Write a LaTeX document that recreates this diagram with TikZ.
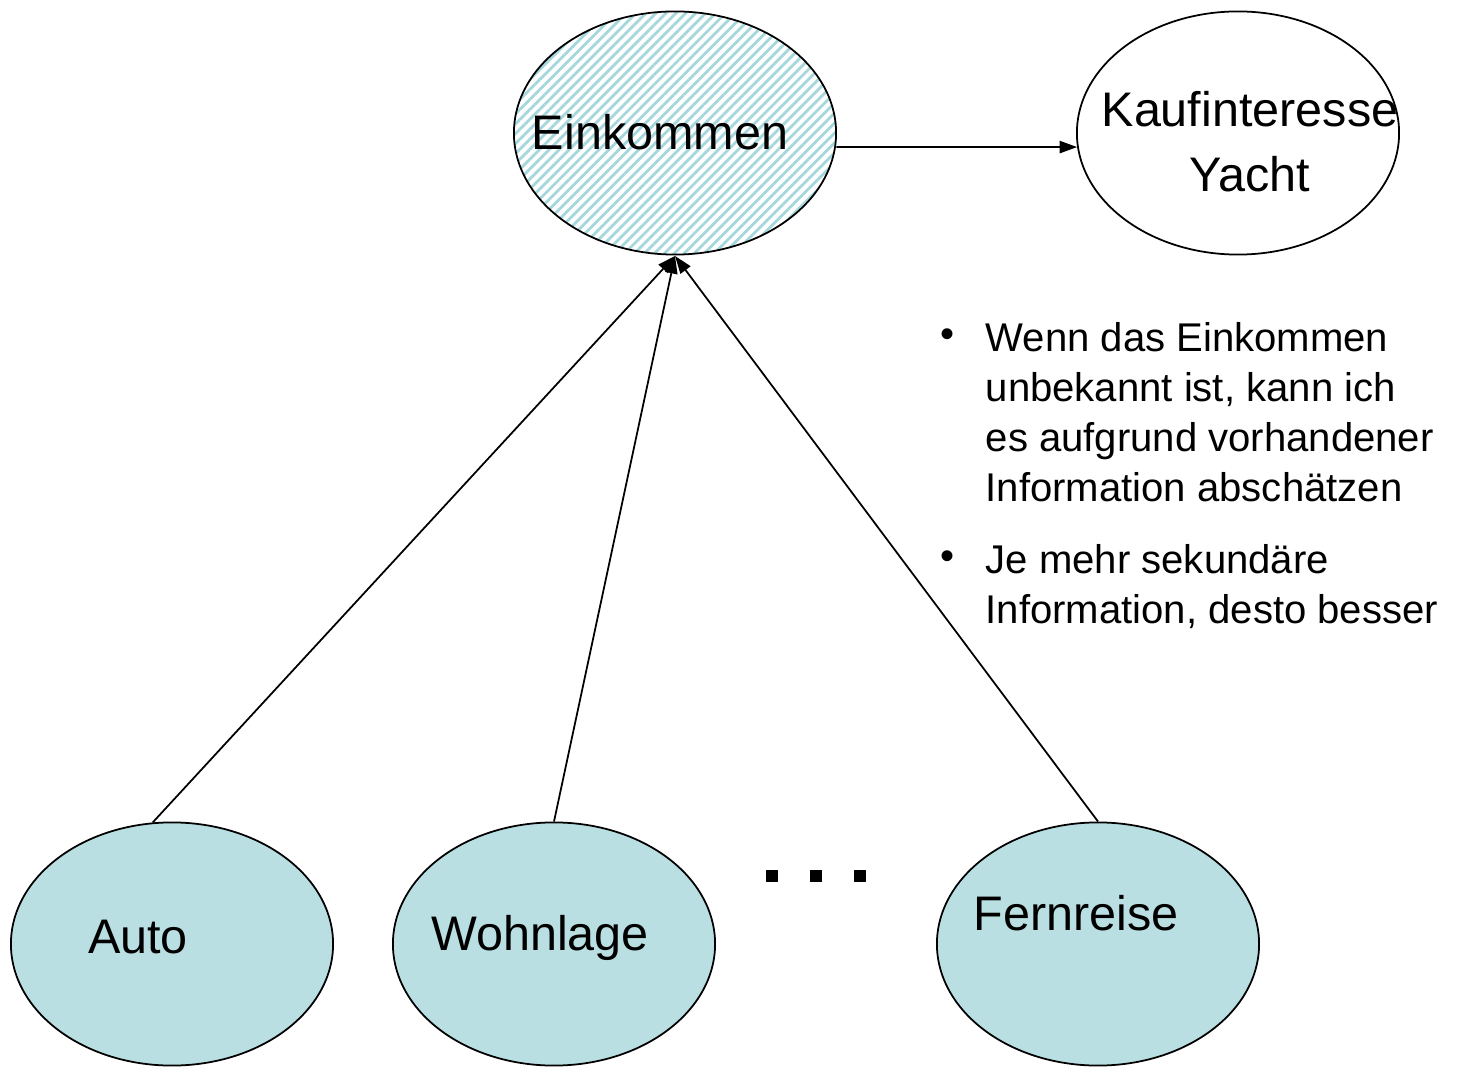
\documentclass[tikz,border=0pt]{standalone}
\usepackage{fontspec}
\setmainfont{Liberation Sans}
\usetikzlibrary{shapes.geometric,arrows.meta,patterns.meta}
\definecolor{hellblau}{RGB}{185,223,226}
\definecolor{schraffur}{RGB}{165,215,220}

\begin{document}
\begin{tikzpicture}[x=0.01cm,y=-0.01cm,
  every node/.style={align=center,inner sep=0pt},
  oval/.style={draw,ellipse,line width=0.5pt,minimum width=3.22cm,minimum height=2.43cm},
  wort/.style={font=\fontsize{13.8}{18.5}\selectfont},
  liste/.style={font=\fontsize{11.4}{14.2}\selectfont},
  punkt/.style={fill=black,minimum size=0.12cm},
  pfeil/.style={-{Triangle[length=5pt,width=3.5pt]},line width=0.5pt}]
\useasboundingbox (0,0) rectangle (1457,1067);

\node (eink) [oval,pattern={Lines[angle=45,distance=2pt,line width=0.8pt]},
  pattern color=schraffur] at (675,133) {};
\node (kauf) [oval] at (1238,133) {};
\node (auto) [oval,fill=hellblau] at (172,944) {};
\node (wohn) [oval,fill=hellblau] at (554,944) {};
\node (fern) [oval,fill=hellblau] at (1098,944) {};

\node (einkt) [wort] at (660,132) {Einkommen};
\node (kauft) [wort] at (1250,142) {Kaufinteresse\\Yacht};
\node (autot) [wort] at (138,937) {Auto};
\node (wohnt) [wort] at (540,938) {Wohnlage};
\node (fernt) [wort] at (1076,913) {Fernreise};

\foreach \n/\x in {p1/772,p2/816,p3/860}
  \node (\n) [punkt] at (\x,876) {};

\draw [pfeil] (auto.99) -- (eink.south) ;
\draw [pfeil] (wohn.north) -- (eink.south) ;
\draw [pfeil] (fern.north) -- (eink.south) ;
\draw [pfeil] (eink.-5) -- (kauf.-175) ;

\node (b1) [liste] at (948,338) {•};
\node (i1) [liste,anchor=north west,align=left]
  at (985,322) {Wenn das Einkommen\\unbekannt ist, kann ich\\es aufgrund vorhandener\\Information abschätzen};
\node (b2) [liste] at (948,560) {•};
\node (i2) [liste,anchor=north west,align=left]
  at (985,544) {Je mehr sekundäre\\Information, desto besser};
\end{tikzpicture}
\end{document}
